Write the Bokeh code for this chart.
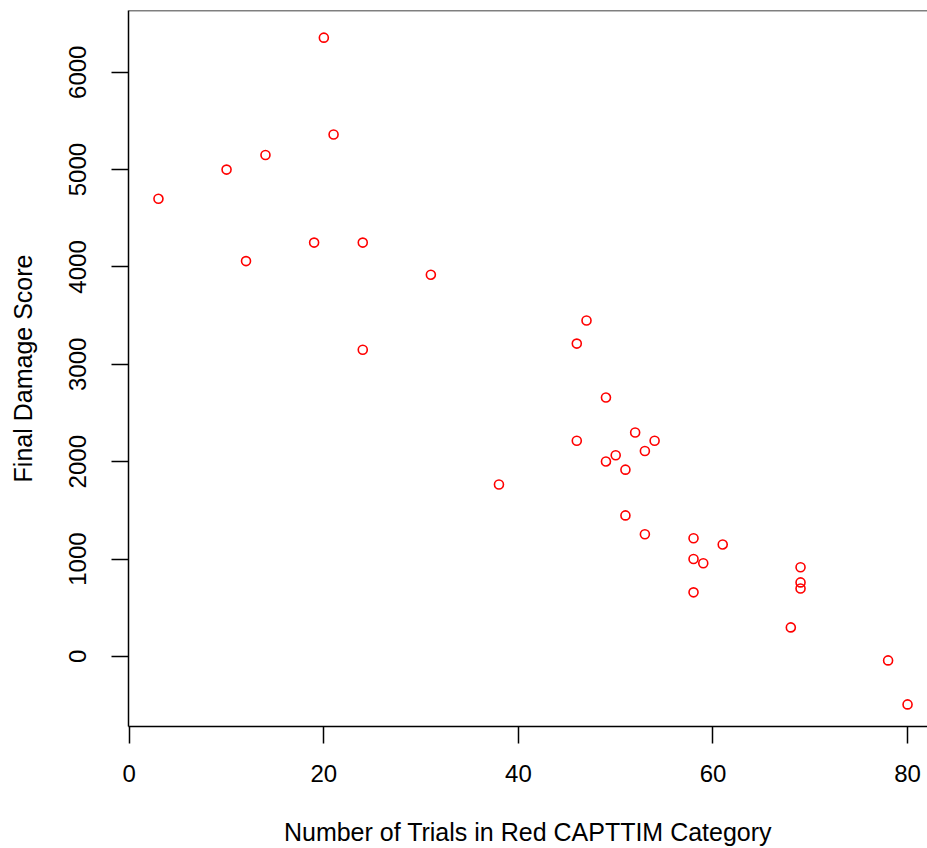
from bokeh.plotting import figure
from bokeh.models import Range1d, Span, FixedTicker
from bokeh.embed import file_html
from bokeh.resources import INLINE

trials = [3, 10, 12, 14, 19, 20, 21, 24, 24, 31, 38, 46, 46, 47, 49, 49, 50, 52, 51, 53,
          54, 51, 53, 58, 58, 59, 61, 58, 69, 69, 69, 68, 78, 80]
damage = [4700, 5000, 4060, 5150, 4250, 6355, 5360, 4250, 3150, 3920, 1766, 3213, 2215, 3450,
          2659, 2002, 2066, 2300, 1918, 2110, 2215, 1448, 1255, 1213, 1000, 957, 1150, 658,
          915, 760, 697, 298, -41, -493]
x_ticks = [0, 20, 40, 60, 80]
y_ticks = [0, 1000, 2000, 3000, 4000, 5000, 6000]
x_title = "Number of Trials in Red CAPTTIM Category"
y_title = "Final Damage Score"

FONT = "Liberation Sans"

p = figure(width=927, height=848, output_backend="svg", toolbar_location=None,
           x_range=Range1d(-0.08, 82.05), y_range=Range1d(-720, 6634),
           min_border_left=128, min_border_top=10, min_border_bottom=120, min_border_right=0)
p.grid.visible = False
p.outline_line_color = None
p.background_fill_color = "white"
p.border_fill_color = "white"

p.scatter(trials, damage, marker="circle", size=9, fill_color=None,
          line_color="#ff0000", line_width=1.6)

p.add_layout(Span(location=6634, dimension="width", line_color="black", line_width=1.5))

for ax in (p.xaxis[0], p.yaxis[0]):
    ax.axis_line_color = "black"
    ax.axis_line_width = 1.5
    ax.major_tick_line_color = "black"
    ax.major_tick_line_width = 1.5
    ax.major_tick_out = 17
    ax.major_tick_in = 0
    ax.minor_tick_line_color = None
    ax.major_label_text_font = FONT
    ax.major_label_text_font_size = "24px"
    ax.major_label_text_color = "black"
    ax.axis_label_text_font = FONT
    ax.axis_label_text_font_size = "25px"
    ax.axis_label_text_font_style = "normal"
    ax.axis_label_text_color = "black"
    ax.axis_label_text_line_height = 0.6

p.xaxis.major_label_standoff = 21
p.yaxis.major_label_standoff = 25
p.xaxis.ticker = FixedTicker(ticks=x_ticks)
p.yaxis.ticker = FixedTicker(ticks=y_ticks)
p.yaxis.major_label_orientation = "vertical"
p.xaxis.axis_label = x_title
p.yaxis.axis_label = y_title
p.xaxis.axis_label_standoff = 33
p.yaxis.axis_label_standoff = 30

open("out.html", "w").write(file_html(p, INLINE))
